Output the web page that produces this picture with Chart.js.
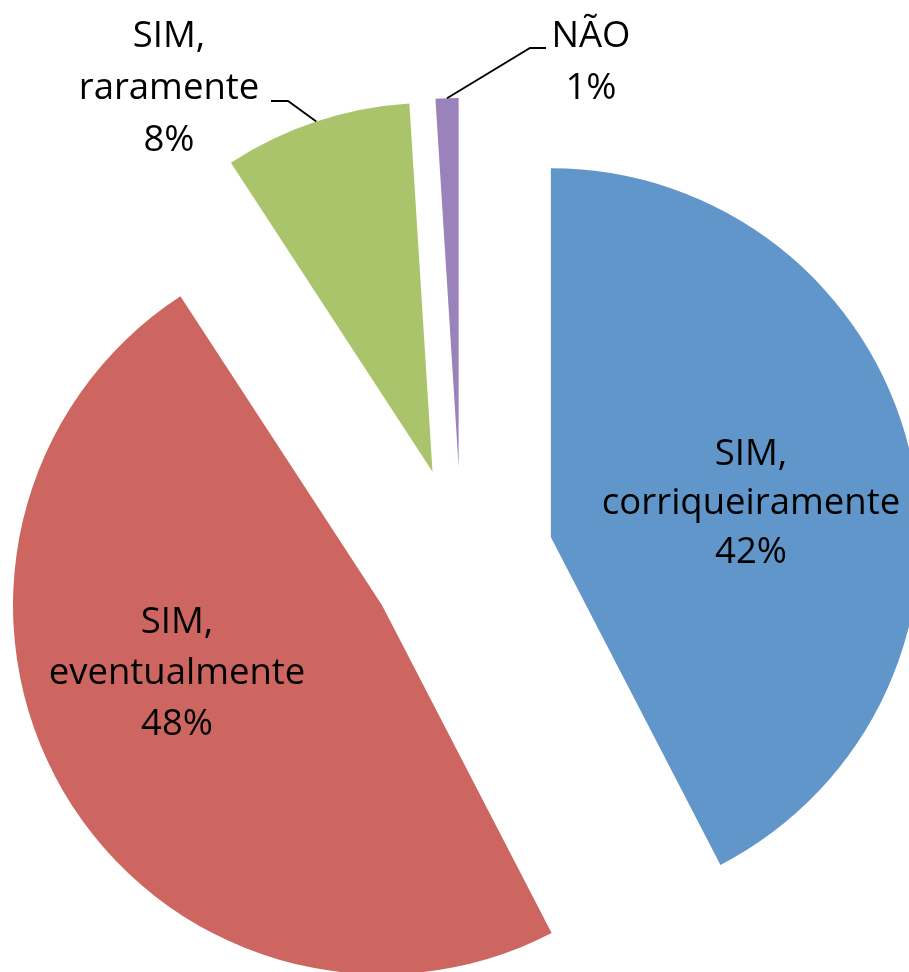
<!DOCTYPE html>
<html><head><meta charset="utf-8">
<script src="https://cdn.jsdelivr.net/npm/chart.js@4.4.0/dist/chart.umd.min.js"></script>
<style>html,body{margin:0;padding:0;background:#fff;}canvas{display:block;}</style>
</head><body>
<canvas id="c" width="909" height="972"></canvas>
<script>
// ---- data ----
const categories = ["SIM, corriqueiramente", "SIM, eventualmente", "SIM, raramente", "NÃO"];
const labelLines = [["SIM,", "corriqueiramente"], ["SIM,", "eventualmente"], ["SIM,", "raramente"], ["NÃO"]];
const percentLabels = ["42%", "48%", "8%", "1%"];
const values = [42.4, 48.4, 8.2, 1.0];

// ---- style / layout ----
const colors = ["#6096C9", "#CD6660", "#AAC46C", "#9A82BA"];
const EXPLODE = 92;
const RADIUS = 369;
const FONT = "36.5px 'Open Sans'";
const labelLayout = [
  {x: 751, y: 465, lh: 49},
  {x: 177, y: 633, lh: 51},
  {x: 169, y: 47, lh: 52, leader: [[271, 101], [288, 101]]},
  {x: 591, y: 47, lh: 52, leader: [[546, 48], [530, 48]]}
];

const explodePlugin = {
  id: 'explode',
  beforeDatasetsDraw(chart) {
    const a = chart.chartArea;
    const cx = (a.left + a.right) / 2, cy = (a.top + a.bottom) / 2;
    chart.getDatasetMeta(0).data.forEach(arc => {
      const mid = (arc.startAngle + arc.endAngle) / 2;
      arc.x = cx + Math.cos(mid) * EXPLODE;
      arc.y = cy + Math.sin(mid) * EXPLODE;
    });
  }
};

const labelPlugin = {
  id: 'sliceLabels',
  afterDatasetsDraw(chart) {
    const ctx = chart.ctx;
    ctx.save();
    ctx.font = FONT;
    ctx.fillStyle = '#000';
    ctx.textAlign = 'center';
    ctx.textBaseline = 'alphabetic';
    chart.getDatasetMeta(0).data.forEach((arc, i) => {
      const L = labelLayout[i];
      const lines = labelLines[i].concat([percentLabels[i]]);
      lines.forEach((t, k) => ctx.fillText(t, L.x, L.y + k * L.lh));
      if (L.leader) {
        const mid = (arc.startAngle + arc.endAngle) / 2;
        const ex = arc.x + Math.cos(mid) * arc.outerRadius;
        const ey = arc.y + Math.sin(mid) * arc.outerRadius;
        ctx.beginPath();
        ctx.lineWidth = 1.8;
        ctx.strokeStyle = '#000';
        ctx.moveTo(L.leader[0][0], L.leader[0][1]);
        ctx.lineTo(L.leader[1][0], L.leader[1][1]);
        ctx.lineTo(ex, ey);
        ctx.stroke();
      }
    });
    ctx.restore();
  }
};

new Chart(document.getElementById('c'), {
  type: 'pie',
  data: {
    labels: categories,
    datasets: [{
      data: values,
      backgroundColor: colors,
      borderWidth: 0,
      radius: RADIUS,
      clip: false
    }]
  },
  options: {
    responsive: false,
    animation: false,
    events: [],
    layout: {padding: {left: 14, right: 0, top: 146, bottom: 0}},
    plugins: {legend: {display: false}, tooltip: {enabled: false}}
  },
  plugins: [explodePlugin, labelPlugin]
});
</script>
</body></html>
